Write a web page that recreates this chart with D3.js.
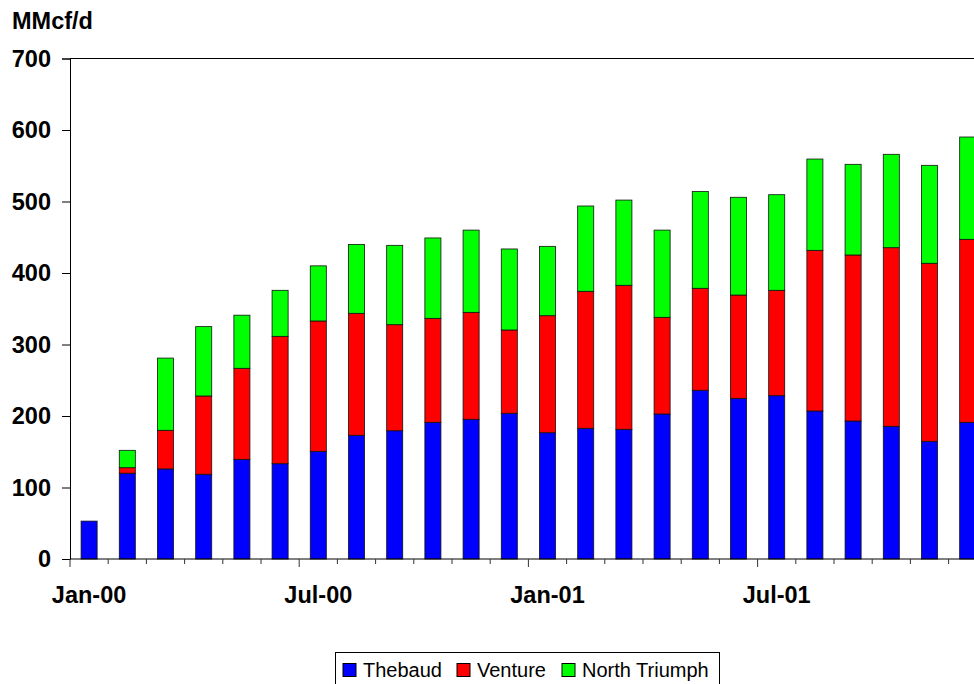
<!DOCTYPE html>
<html>
<head>
<meta charset="utf-8">
<script src="https://cdn.jsdelivr.net/npm/d3@7/dist/d3.min.js"></script>
<style>
  html, body { margin: 0; padding: 0; background: #fff; overflow: hidden; }
  svg { display: block; font-family: Arial, "Liberation Sans", sans-serif; }
</style>
</head>
<body>
<svg id="chart" width="974" height="684"></svg>
<script>
// Monthly categories, Jan 2000 to Dec 2001
const months = ["Jan-00","Feb-00","Mar-00","Apr-00","May-00","Jun-00","Jul-00","Aug-00","Sep-00","Oct-00","Nov-00","Dec-00",
                "Jan-01","Feb-01","Mar-01","Apr-01","May-01","Jun-01","Jul-01","Aug-01","Sep-01","Oct-01","Nov-01","Dec-01"];

// Field production, MMcf/d
const thebaud = [53, 120, 126, 118.5, 139.4, 133.3, 150.6, 173, 179.4, 191.2, 195.4, 203.8,
                 176.6, 182.8, 181.4, 202.8, 236, 224.7, 228.4, 207, 193, 185.6, 164.6, 191.2];
const venture = [0, 7.7, 54, 109.5, 127.3, 178.1, 182.3, 170.6, 148.3, 145.4, 149.6, 116.5,
                 163.7, 191.6, 201.4, 135.2, 142.6, 144.5, 147.4, 224.7, 232.2, 249.8, 249, 255.9];
const northTriumph = [0, 24.3, 101, 97, 74.3, 64.4, 77.1, 96.4, 111, 112.4, 115, 113.3,
                      97, 119.3, 119.2, 122, 135.4, 136.7, 133.7, 127.7, 126.8, 130.6, 137, 143.1];

const seriesNames = ["Thebaud", "Venture", "North Triumph"];
const seriesColors = ["#0000FF", "#FF0000", "#00FF00"];
const yTicks = [0, 100, 200, 300, 400, 500, 600, 700];
const labelledMonths = ["Jan-00", "Jul-00", "Jan-01", "Jul-01"];
const unitLabel = "MMcf/d";

const svg = d3.select("#chart");
const plotLeft = 70, plotTop = 58.5, plotBottom = 559;
const step = 38.2;
const plotRight = plotLeft + step * months.length;
const axisFont = 23.5;

const x = d3.scaleBand().domain(months).range([plotLeft, plotRight]).paddingInner(0.58).paddingOuter(0.29);
const y = d3.scaleLinear().domain([0, 700]).range([plotBottom, plotTop]);

const rows = months.map((m, i) => ({ month: m, Thebaud: thebaud[i], Venture: venture[i], "North Triumph": northTriumph[i] }));
const stacked = d3.stack().keys(seriesNames)(rows);

// Stacked bars
svg.append("g").selectAll("g").data(stacked).join("g")
  .attr("fill", (d, i) => seriesColors[i])
  .selectAll("rect").data(d => d.filter(s => s[1] - s[0] > 0)).join("rect")
  .attr("x", d => x(d.data.month))
  .attr("width", x.bandwidth())
  .attr("y", d => y(d[1]))
  .attr("height", d => y(d[0]) - y(d[1]))
  .attr("stroke", "#111")
  .attr("stroke-width", 0.8);

// Top border of the plot area
svg.append("line")
  .attr("x1", plotLeft).attr("x2", plotRight)
  .attr("y1", y(700)).attr("y2", y(700))
  .attr("stroke", "#000").attr("stroke-width", 1);

// Y axis
const yAxis = svg.append("g")
  .attr("transform", `translate(${plotLeft},0)`)
  .call(d3.axisLeft(y).tickValues(yTicks).tickSize(8).tickPadding(11).tickFormat(d3.format("d")));
yAxis.select(".domain").attr("stroke", "#000");
yAxis.selectAll(".tick line").attr("stroke", "#000");
yAxis.selectAll("text").attr("font-size", axisFont).attr("font-weight", "bold").attr("fill", "#000")
  .attr("font-family", "Arial, 'Liberation Sans', sans-serif");

// X axis baseline
svg.append("line")
  .attr("x1", plotLeft).attr("x2", plotRight)
  .attr("y1", plotBottom).attr("y2", plotBottom)
  .attr("stroke", "#000").attr("stroke-width", 1);

// Category boundary ticks: long at Jan / Jul, short otherwise
const gap = (x.step() - x.bandwidth()) / 2;
svg.append("g").selectAll("line").data(months).join("line")
  .attr("x1", d => x(d) - gap).attr("x2", d => x(d) - gap)
  .attr("y1", plotBottom)
  .attr("y2", d => labelledMonths.includes(d) ? plotBottom + 8 : plotBottom + 5)
  .attr("stroke", "#333").attr("stroke-width", 1);

// X labels
const xAxis = svg.append("g")
  .attr("transform", `translate(0,${plotBottom})`)
  .call(d3.axisBottom(x).tickValues(labelledMonths).tickSize(0).tickPadding(27));
xAxis.select(".domain").remove();
xAxis.selectAll("text").attr("font-size", axisFont).attr("font-weight", "bold").attr("fill", "#000")
  .attr("font-family", "Arial, 'Liberation Sans', sans-serif");

// Unit label
svg.append("text")
  .attr("x", 12).attr("y", 28.5)
  .attr("font-size", axisFont).attr("font-weight", "bold").attr("fill", "#000")
  .text(unitLabel);

// Legend
const legend = svg.append("g");
legend.append("rect")
  .attr("x", 335.5).attr("y", 652.5).attr("width", 384).attr("height", 50)
  .attr("fill", "#fff").attr("stroke", "#000").attr("stroke-width", 1);
const legendX = [343, 457, 562];
seriesNames.forEach((name, i) => {
  legend.append("rect")
    .attr("x", legendX[i]).attr("y", 663.5).attr("width", 13).attr("height", 13)
    .attr("fill", seriesColors[i]).attr("stroke", "#000").attr("stroke-width", 1);
  legend.append("text")
    .attr("x", legendX[i] + 20).attr("y", 677)
    .attr("font-size", 20).attr("fill", "#000")
    .text(name);
});
</script>
</body>
</html>
